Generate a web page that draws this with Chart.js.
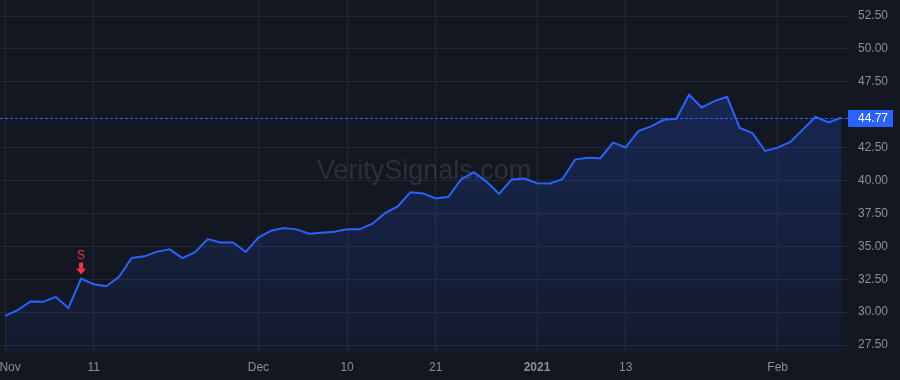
<!DOCTYPE html>
<html>
<head>
<meta charset="utf-8">
<script src="https://cdn.jsdelivr.net/npm/chart.js@4"></script>
<style>
  html, body { margin: 0; padding: 0; background: #131722; }
  #wrap { width: 900px; height: 380px; position: relative; }
</style>
</head>
<body>
<div id="wrap"><canvas id="myChart"></canvas></div>
<script>
// trading days, Nov 2 2020 .. Feb 8 2021
const dates = [
  '2020-11-02','2020-11-03','2020-11-04','2020-11-05','2020-11-06','2020-11-09','2020-11-10','2020-11-11',
  '2020-11-12','2020-11-13','2020-11-16','2020-11-17','2020-11-18','2020-11-19','2020-11-20','2020-11-23',
  '2020-11-24','2020-11-25','2020-11-27','2020-11-30','2020-12-01','2020-12-02','2020-12-03','2020-12-04',
  '2020-12-07','2020-12-08','2020-12-09','2020-12-10','2020-12-11','2020-12-14','2020-12-15','2020-12-16',
  '2020-12-17','2020-12-18','2020-12-21','2020-12-22','2020-12-23','2020-12-24','2020-12-28','2020-12-29',
  '2020-12-30','2020-12-31','2021-01-04','2021-01-05','2021-01-06','2021-01-07','2021-01-08','2021-01-11',
  '2021-01-12','2021-01-13','2021-01-14','2021-01-15','2021-01-19','2021-01-20','2021-01-21','2021-01-22',
  '2021-01-25','2021-01-26','2021-01-27','2021-01-28','2021-01-29','2021-02-01','2021-02-02','2021-02-03',
  '2021-02-04','2021-02-05','2021-02-08'
];
const prices = [
  29.72, 30.15, 30.81, 30.78, 31.16, 30.30, 32.55, 32.12, 31.97, 32.68,
  34.11, 34.24, 34.60, 34.77, 34.11, 34.55, 35.55, 35.30, 35.30, 34.57,
  35.66, 36.19, 36.39, 36.29, 35.96, 36.04, 36.11, 36.29, 36.29, 36.72,
  37.52, 38.03, 39.11, 39.02, 38.64, 38.77, 40.08, 40.63, 39.92, 38.99,
  40.08, 40.15, 39.80, 39.77, 40.10, 41.59, 41.74, 41.70, 42.88, 42.52,
  43.76, 44.11, 44.62, 44.70, 46.52, 45.55, 46.04, 46.36, 44.00, 43.61,
  42.25, 42.50, 42.93, 43.89, 44.85, 44.42, 44.77
];
// x axis labels and the day they sit on
const xTickDates = ['2020-11-02','2020-11-11','2020-12-01','2020-12-10','2020-12-21','2021-01-04','2021-01-13','2021-02-01'];
const xTickLabels = ['Nov','11','Dec','10','21','2021','13','Feb'];
// 45.00 sits under the last price label, so it is left out
const yTicks = [27.5, 30, 32.5, 35, 37.5, 40, 42.5, 47.5, 50, 52.5];
const sellSignalDate = '2020-11-10';
const lastPrice = 44.77;

const xTickIdx = xTickDates.map(d => dates.indexOf(d));
const points = prices.map((p, i) => ({ x: i, y: p }));

const gridColor = '#232734';
const textColor = '#8a8e99';
const lineColor = '#2962ff';
const font = '"Liberation Sans", Arial, sans-serif';

const overlay = {
  id: 'overlay',
  beforeDatasetsDraw(chart) {
    const ctx = chart.ctx;
    ctx.save();
    ctx.font = '27px ' + font;
    ctx.fillStyle = 'rgba(120, 123, 134, 0.25)';
    ctx.textAlign = 'center';
    ctx.textBaseline = 'middle';
    ctx.fillText('VeritySignals.com', 424, 172);
    ctx.restore();
  },
  afterDraw(chart) {
    const ctx = chart.ctx;
    const area = chart.chartArea;
    const xs = chart.scales.x;
    const ys = chart.scales.y;

    // last price dotted line + label
    const py = Math.round(ys.getPixelForValue(lastPrice)) + 0.5;
    ctx.save();
    ctx.strokeStyle = lineColor;
    ctx.lineWidth = 1;
    ctx.setLineDash([3, 2]);
    ctx.beginPath();
    ctx.moveTo(0, py);
    ctx.lineTo(area.right, py);
    ctx.stroke();
    ctx.setLineDash([]);
    ctx.fillStyle = lineColor;
    ctx.fillRect(area.right, py - 8.5, 45, 17);
    ctx.fillStyle = '#ffffff';
    ctx.font = '12px ' + font;
    ctx.textAlign = 'left';
    ctx.textBaseline = 'middle';
    ctx.fillText(lastPrice.toFixed(2), area.right + 10, py + 0.5);

    // sell signal marker
    const si = dates.indexOf(sellSignalDate);
    const sx = xs.getPixelForValue(si);
    const sy = ys.getPixelForValue(prices[si]);
    ctx.fillStyle = '#f23645';
    ctx.textAlign = 'center';
    ctx.fillText('S', sx, sy - 23);
    ctx.fillRect(sx - 2, sy - 16, 4, 6);
    ctx.beginPath();
    ctx.moveTo(sx - 5, sy - 10);
    ctx.lineTo(sx + 5, sy - 10);
    ctx.lineTo(sx, sy - 4);
    ctx.closePath();
    ctx.fill();
    ctx.restore();
  }
};

const ctx = document.getElementById('myChart').getContext('2d');
const myChart = new Chart(ctx, {
  type: 'line',
  data: {
    datasets: [{
      data: points,
      borderColor: lineColor,
      borderWidth: 2,
      pointRadius: 0,
      tension: 0,
      fill: 'start',
      backgroundColor: function(c) {
        const area = c.chart.chartArea;
        if (!area) return 'rgba(41, 98, 255, 0.15)';
        const g = c.chart.ctx.createLinearGradient(0, area.top + 90, 0, area.bottom);
        g.addColorStop(0, 'rgba(41, 98, 255, 0.22)');
        g.addColorStop(1, 'rgba(41, 98, 255, 0.06)');
        return g;
      }
    }]
  },
  options: {
    responsive: true,
    maintainAspectRatio: false,
    animation: false,
    layout: { padding: 0 },
    plugins: {
      legend: { display: false },
      tooltip: { enabled: false }
    },
    scales: {
      x: {
        type: 'linear',
        min: -0.4,
        max: 66.55,
        afterBuildTicks: s => { s.ticks = xTickIdx.map(v => ({ value: v })); },
        afterFit: s => { s.height = 28; s.paddingLeft = 0; s.paddingRight = 0; },
        grid: { color: gridColor, drawTicks: false },
        border: { display: false },
        ticks: {
          padding: 8,
          color: textColor,
          maxRotation: 0,
          autoSkip: false,
          font: c => ({
            family: font,
            size: 12,
            weight: (c.tick && c.tick.value === xTickIdx[5]) ? 'bold' : 'normal'
          }),
          callback: v => {
            const k = xTickIdx.indexOf(v);
            if (k < 0) return '';
            // first label would be cut by the left edge, push it in
            return k === 0 ? '   ' + xTickLabels[k] : xTickLabels[k];
          }
        }
      },
      y: {
        position: 'right',
        min: 26.97,
        max: 53.72,
        afterBuildTicks: s => { s.ticks = yTicks.map(v => ({ value: v })); },
        afterFit: s => { s.width = 52; s.paddingTop = 0; s.paddingBottom = 0; },
        grid: { color: gridColor, drawTicks: false },
        border: { display: false },
        ticks: {
          padding: 10,
          color: textColor,
          font: { family: font, size: 12 },
          callback: v => v.toFixed(2)
        }
      }
    }
  },
  plugins: [overlay]
});
</script>
</body>
</html>
